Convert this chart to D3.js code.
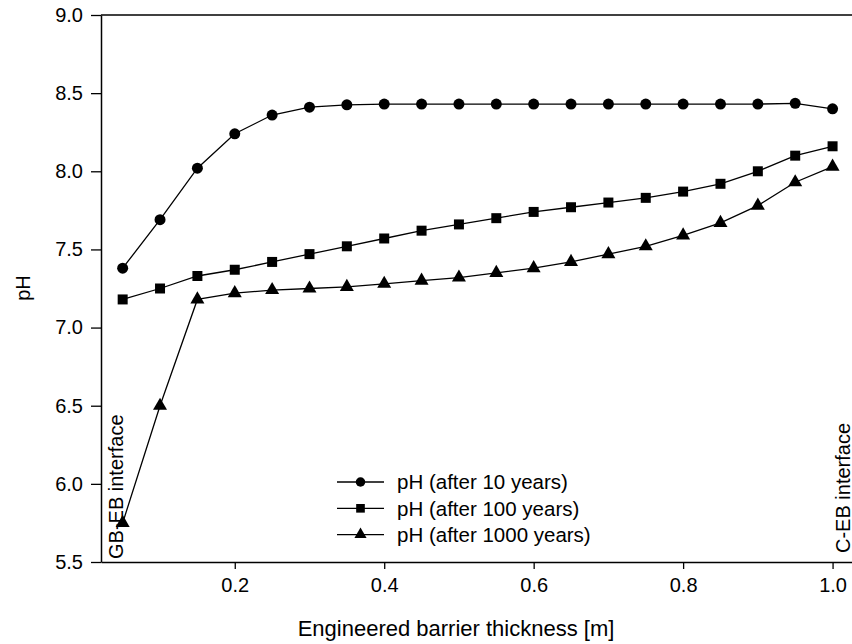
<!DOCTYPE html>
<html>
<head>
<meta charset="utf-8">
<script src="https://cdn.jsdelivr.net/npm/d3@7"></script>
<style>
  html, body { margin: 0; padding: 0; background: #fff; overflow: hidden; }
  svg { display: block; }
  text { font-family: "Liberation Sans", Arial, Helvetica, sans-serif; fill: #000; }
</style>
</head>
<body>
<div id="chart"></div>
<script>
// pH across the engineered barrier
const thickness = [0.05, 0.10, 0.15, 0.20, 0.25, 0.30, 0.35, 0.40, 0.45, 0.50,
                   0.55, 0.60, 0.65, 0.70, 0.75, 0.80, 0.85, 0.90, 0.95, 1.00];
const ph10 = [7.38, 7.69, 8.02, 8.24, 8.36, 8.41, 8.425, 8.43, 8.43, 8.43,
              8.43, 8.43, 8.43, 8.43, 8.43, 8.43, 8.43, 8.43, 8.435, 8.40];
const ph100 = [7.18, 7.25, 7.33, 7.37, 7.42, 7.47, 7.52, 7.57, 7.62, 7.66,
               7.70, 7.74, 7.77, 7.80, 7.83, 7.87, 7.92, 8.00, 8.10, 8.16];
const ph1000 = [5.75, 6.50, 7.18, 7.22, 7.24, 7.25, 7.26, 7.28, 7.30, 7.32,
                7.35, 7.38, 7.42, 7.47, 7.52, 7.59, 7.67, 7.78, 7.93, 8.03];
const seriesNames = ["pH (after 10 years)", "pH (after 100 years)", "pH (after 1000 years)"];
const xTicks = [0.2, 0.4, 0.6, 0.8, 1.0];
const yTicks = [5.5, 6.0, 6.5, 7.0, 7.5, 8.0, 8.5, 9.0];

const width = 852;
const height = 644;
const margin = {top: 15, right: 0, bottom: 82, left: 101};
const innerWidth = width - margin.left - margin.right;
const innerHeight = height - margin.top - margin.bottom;

const svg = d3.select("#chart")
    .append("svg")
    .attr("width", width)
    .attr("height", height);

const chart = svg.append("g")
    .attr("transform", `translate(${margin.left}, ${margin.top})`);

// axis runs a bit past 1.0, the right edge is cut off in the original
const xScale = d3.scaleLinear()
    .domain([0.021, 1.026])
    .range([0, innerWidth]);

const yScale = d3.scaleLinear()
    .domain([5.5, 9.0])
    .range([innerHeight, 0]);

// x axis
const xAxisG = chart.append("g")
    .attr("transform", `translate(0, ${innerHeight})`)
    .call(d3.axisBottom(xScale).tickValues(xTicks).tickFormat(d3.format(".1f"))
        .tickSize(7).tickSizeOuter(0).tickPadding(9));

// y axis
const yAxisG = chart.append("g")
    .call(d3.axisLeft(yScale).tickValues(yTicks).tickFormat(d3.format(".1f"))
        .tickSize(10).tickSizeOuter(0).tickPadding(8));

[xAxisG, yAxisG].forEach(g => {
    g.select(".domain").attr("stroke", "#000").attr("stroke-width", 1.5);
    g.selectAll(".tick line").attr("stroke", "#000").attr("stroke-width", 1.3);
    g.selectAll(".tick text")
        .attr("fill", "#000")
        .style("font-family", "'Liberation Sans', Arial, Helvetica, sans-serif")
        .style("font-size", "20px");
    g.attr("font-family", null).attr("font-size", null);
});

// top frame line
chart.append("line")
    .attr("x1", 0)
    .attr("x2", innerWidth)
    .attr("y1", yScale(9.0))
    .attr("y2", yScale(9.0))
    .attr("stroke", "#000")
    .attr("stroke-width", 1.5);

// series
const allSeries = [ph10, ph100, ph1000];
const symbols = [d3.symbolCircle, d3.symbolSquare, d3.symbolTriangle];
const symbolSizes = [95, 100, 85];

const line = d3.line()
    .x((d, i) => xScale(thickness[i]))
    .y(d => yScale(d));

allSeries.forEach((values, s) => {
    chart.append("path")
        .datum(values)
        .attr("fill", "none")
        .attr("stroke", "#000")
        .attr("stroke-width", 1.3)
        .attr("d", line);

    chart.selectAll(`path.marker-${s}`)
        .data(values)
        .enter()
        .append("path")
        .attr("class", `marker-${s}`)
        .attr("transform", (d, i) => `translate(${xScale(thickness[i])}, ${yScale(d)})`)
        .attr("d", d3.symbol().type(symbols[s]).size(symbolSizes[s]))
        .attr("fill", "#000");
});

// interface labels
svg.append("text")
    .attr("transform", "translate(123, 559) rotate(-90)")
    .style("font-size", "20px")
    .text("GB-EB interface");

svg.append("text")
    .attr("transform", "translate(850, 553) rotate(-90)")
    .style("font-size", "20px")
    .text("C-EB interface");

// legend
const legend = svg.append("g")
    .attr("transform", "translate(337, 482)");

seriesNames.forEach((name, i) => {
    const y = i * 26.3;
    legend.append("line")
        .attr("x1", 0)
        .attr("x2", 47)
        .attr("y1", y)
        .attr("y2", y)
        .attr("stroke", "#000")
        .attr("stroke-width", 1.3);
    legend.append("path")
        .attr("transform", `translate(23.5, ${y})`)
        .attr("d", d3.symbol().type(symbols[i]).size(symbolSizes[i] * 0.75))
        .attr("fill", "#000");
    legend.append("text")
        .attr("x", 60)
        .attr("y", y)
        .attr("dy", "0.36em")
        .style("font-size", "20.5px")
        .text(name);
});

// axis labels
svg.append("text")
    .attr("x", 456)
    .attr("y", 636)
    .attr("text-anchor", "middle")
    .style("font-size", "22px")
    .text("Engineered barrier thickness [m]");

svg.append("text")
    .attr("transform", "translate(30, 288) rotate(-90)")
    .attr("text-anchor", "middle")
    .style("font-size", "20px")
    .text("pH");
</script>
</body>
</html>
